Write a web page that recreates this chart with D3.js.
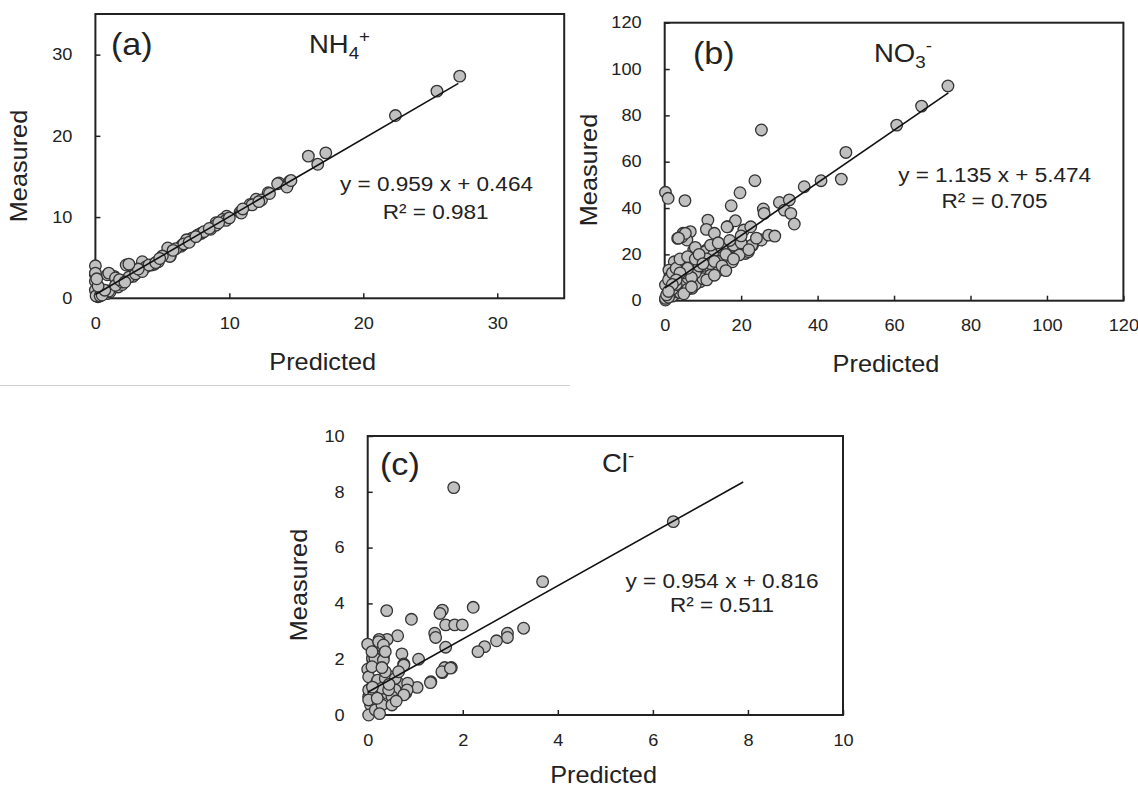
<!DOCTYPE html>
<html>
<head>
<meta charset="utf-8">
<script src="https://cdn.jsdelivr.net/npm/d3@7"></script>
<style>
  html, body { margin: 0; padding: 0; background: #fff; }
  svg { display: block; font-family: "Liberation Sans", Arial, sans-serif; }
</style>
</head>
<body>
<svg id="fig" width="1138" height="789"></svg>
<script>
// ---------- (a) NH4+ ----------
const nh4Predicted = [27.2, 25.5, 22.4, 15.9, 17.2, 16.6, 13.7, 14.5, 14.3, 12.9, 12.0, 11.55, 10.8, 9.8, 9.5, 9.0, 8.6, 7.9, 7.2, 6.8,
  6.4, 5.4, 5.6, 4.7, 3.5, 2.3, 3.8, 2.8, 1.4, 0.9, 1.7, 0.9, 0, 0, 0, 0, 0.2, 0.3,
  1.1, 1.0, 1.5, 2.0, 4.2, 4.4, 5.55, 6.5, 6.8, 7.65, 8.1, 9.0, 9.75, 10.9, 11.7, 12.4, 13.0, 13.6, 14.3, 14.6, 0, 0.05, 0.35, 2.8,
  1.0, 1.5, 2.0, 2.5, 3.0, 3.5, 4.0, 4.5, 5.0, 6.0, 6.6, 7.0, 7.5, 8.5, 9.2, 10.0, 11.0, 12.2, 0.5, 0.7, 0.2, 0.1, 1.8, 2.2, 3.2, 4.8, 5.8, 2.5];
const nh4Measured = [27.35, 25.5, 22.5, 17.5, 17.9, 16.5, 14.2, 14.4, 13.8, 13.0, 12.2, 11.55, 10.6, 10.1, 9.7, 9.3, 8.5, 8.0, 7.4, 7.0,
  6.4, 6.2, 5.2, 4.5, 4.5, 4.1, 3.9, 2.9, 2.7, 2.9, 1.4, 0.6, 4.0, 2.9, 2.1, 1.0, 0.2, 0.6,
  0.8, 3.1, 2.5, 1.7, 4.1, 4.2, 5.15, 6.6, 7.2, 7.8, 8.2, 9.0, 9.6, 10.5, 11.5, 12.1, 12.9, 14.1, 13.7, 14.5, 3.1, 0.3, 0.3, 2.7,
  0.9, 1.6, 2.0, 2.6, 3.0, 3.3, 4.1, 4.4, 5.2, 6.1, 6.7, 6.9, 7.6, 8.6, 9.3, 9.9, 11.0, 11.9, 0.4, 1.0, 1.5, 2.4, 2.3, 2.0, 3.6, 4.9, 5.9, 4.2];
const nh4Ticks = [0, 10, 20, 30];
const nh4Fit = { slope: 0.959, intercept: 0.464, from: 0, to: 27.1, r2: 0.981 };

// ---------- (b) NO3- ----------
const no3Predicted = [74.1, 67.2, 60.7, 47.4, 46.2, 40.9, 36.5, 25.3, 23.6, 19.7, 17.4, 30.0, 32.6, 31.3, 33.0, 33.9, 25.8, 26.0, 0.2, 0.9,
  5.3, 11.3, 10.9, 13.0, 16.5, 18.5, 20.7, 22.5, 23.0, 25.3, 27.2, 28.8, 18.8, 21.1, 16.9, 17.7, 3.4, 4.8, 6.7, 5.8,
  7.6, 7.2, 2.5, 1.1, 3.4, 9.5, 10.9, 13.2, 13.7, 0.2, 1.6, 0.2, 4.8, 9.0,
  4.5, 5.4, 3.6, 16.3, 10.6, 12.8, 15.0, 15.4, 19.3, 21.1, 21.9, 22.8, 19.5, 6.2, 7.1, 9.7, 11.9, 5.4, 1.5, 8.0, 10.6,
  2.3, 7.1, 9.3, 0.2, 3.2, 5.0,
  2, 3, 4, 6, 8, 10, 12, 14, 6, 8, 12, 2, 1, 0.5, 3, 5, 7, 9, 11, 14, 16, 18, 20, 1.0, 2, 3, 4, 6, 8,
  12, 14, 17, 20, 8, 9, 6, 4, 3, 10, 13, 15, 18, 22, 24, 2, 1, 5, 7, 11, 13, 16];
const no3Measured = [92.7, 84.0, 75.8, 64.0, 52.5, 51.8, 49.2, 73.7, 51.8, 46.6, 41.0, 42.4, 43.5, 39.1, 37.7, 33.1, 39.6, 37.7, 46.8, 44.2,
  43.2, 34.8, 30.8, 29.1, 31.9, 34.5, 30.5, 31.9, 24.0, 26.2, 28.3, 27.9, 22.6, 20.4, 16.8, 16.8, 26.9, 29.1, 29.8, 26.2,
  21.9, 18.3, 16.8, 13.2, 11.8, 13.2, 21.9, 20.4, 13.2, 6.8, 3.9, 0.3, 6.0, 8.9,
  27.6, 29.1, 27.0, 31.9, 21.2, 19.8, 22.6, 19.1, 22.6, 23.3, 21.2, 24.0, 19.8, 14.9, 16.8, 12.5, 14.6, 9.7, 10.4, 9.0, 10.4,
  8.2, 5.3, 8.2, 1.0, 3.2, 6.7,
  2, 4, 3.5, 5, 7, 9.5, 11, 13, 10, 12, 16, 5, 1.5, 2.5, 7, 12, 10, 15, 18, 17, 20, 24, 25, 9, 12, 14, 18, 19, 23,
  24, 25, 26, 28, 18, 20, 14, 12, 9, 16, 17, 15, 18, 22, 27, 7, 4, 3, 6, 9, 11, 13];
const no3Ticks = [0, 20, 40, 60, 80, 100, 120];
const no3Fit = { slope: 1.135, intercept: 5.474, from: 0, to: 74.2, r2: 0.705 };

// ---------- (c) Cl- ----------
const clPredicted = [6.43, 3.68, 1.81, 2.22, 1.57, 1.52, 1.64, 1.83, 1.99, 1.41, 1.43, 0.92, 0.40, 0.63, 3.28, 2.94, 2.94, 2.71, 2.46, 2.32,
  1.64, 1.07, 0.72, 0.76, 1.76, 1.62, 1.57, 1.33, 1.04, 0.0, 0.30, 0.41, 0.24, 0.14, 0.10, 0.33, 0, 0.02, 0.18, 0.49,
  0.65, 0.41, 0.80, 0.84, 0.02, 0.06, 0.18, 0.02,
  0.23, 0.33, 0.76, 0.15, 0.09, 0.33, 0.37, 1.56, 1.74, 1.32, 0.83, 0.58, 0.76, 0.51, 0.09, 0.21, 0.37, 0.58, 0.65, 0.37,
  0.02, 0.13, 0.30, 0.44, 0.02, 0.23, 0.16, 0.30, 0.51, 0.3, 0.2, 0.1, 0.45, 0.6, 0.25];
const clMeasured = [6.93, 4.78, 8.15, 3.86, 3.76, 3.64, 3.23, 3.23, 3.23, 2.93, 2.78, 3.43, 3.74, 2.84, 3.11, 2.93, 2.78, 2.66, 2.45, 2.27,
  2.43, 2.0, 2.19, 1.83, 1.70, 1.70, 1.52, 1.19, 0.99, 2.54, 2.47, 2.71, 2.71, 2.15, 2.03, 2.09, 1.64, 1.37, 1.14, 1.37,
  1.14, 0.78, 0.78, 1.14, 0.66, 0.36, 0.18, 0,
  2.63, 2.51, 1.79, 2.03, 2.27, 1.97, 2.27, 1.55, 1.68, 1.16, 0.9, 0.9, 0.72, 0.66, 1.73, 1.25, 1.31, 1.31, 1.55, 1.55,
  0.9, 0.78, 0.96, 0.9, 0.54, 0.42, 0.18, 0.36, 0.36, 1.7, 0.6, 1.0, 1.1, 0.5, 0.05];
const clTicks = [0, 2, 4, 6, 8, 10];
const clFit = { slope: 0.954, intercept: 0.816, from: 0, to: 7.9, r2: 0.511 };

// ---------- drawing ----------
const STRETCH = 1.1;           // the figure's lettering is slightly wide
const INK = "#222";
const svg = d3.select("#fig");

// Separator rule under the first panel
svg.append("line").attr("x1", 0).attr("x2", 570).attr("y1", 385.5).attr("y2", 385.5)
  .attr("stroke", "#d0d0d0").attr("stroke-width", 1);

function label(g, x, y, size, anchor, rotate) {
  return g.append("text")
    .attr("transform", `translate(${x},${y})` + (rotate ? " rotate(-90)" : "") + ` scale(${STRETCH},1)`)
    .attr("font-size", size)
    .attr("text-anchor", anchor)
    .attr("fill", INK);
}

function fmt(v) { return v.toFixed(3); }

function panel(cfg) {
  const g = svg.append("g");
  const x = d3.scaleLinear().domain(cfg.domain).range([cfg.box.left, cfg.box.right]);
  const y = d3.scaleLinear().domain(cfg.domain).range([cfg.box.bottom, cfg.box.top]);

  // axes with inward ticks
  const xa = g.append("g").attr("transform", `translate(0,${cfg.box.bottom})`)
    .call(d3.axisBottom(x).tickValues(cfg.ticks).tickSizeInner(-5).tickSizeOuter(0).tickPadding(19));
  const ya = g.append("g").attr("transform", `translate(${cfg.box.left},0)`)
    .call(d3.axisLeft(y).tickValues(cfg.ticks).tickSizeInner(-5).tickSizeOuter(0).tickPadding(21));
  [xa, ya].forEach(a => {
    a.select(".domain").remove();
    a.selectAll(".tick line").attr("stroke", INK).attr("stroke-width", 1.5);
    a.selectAll(".tick text").attr("font-size", 16.5).attr("fill", INK)
      .attr("font-family", "'Liberation Sans', Arial, sans-serif")
      .attr("transform", `scale(${STRETCH},1)`);
  });

  // frame
  g.append("rect")
    .attr("x", cfg.box.left).attr("y", cfg.box.top)
    .attr("width", cfg.box.right - cfg.box.left).attr("height", cfg.box.bottom - cfg.box.top)
    .attr("fill", "none").attr("stroke", INK).attr("stroke-width", 2);

  // observations
  g.append("g").selectAll("circle")
    .data(d3.zip(cfg.pred, cfg.meas))
    .join("circle")
    .attr("cx", d => x(d[0])).attr("cy", d => y(d[1])).attr("r", 5.8)
    .attr("fill", "#c0c0c0").attr("stroke", "#333").attr("stroke-width", 1.3);

  // least-squares fit
  const f = cfg.fit;
  g.append("line")
    .attr("x1", x(f.from)).attr("y1", y(f.slope * f.from + f.intercept))
    .attr("x2", x(f.to)).attr("y2", y(f.slope * f.to + f.intercept))
    .attr("stroke", "#111").attr("stroke-width", 1.6);

  // annotations
  const t = cfg.text;
  label(g, t.eq[0], t.eq[1], 20.5, "middle").text(`y = ${fmt(f.slope)} x + ${fmt(f.intercept)}`);
  label(g, t.r2[0], t.r2[1], 20.5, "middle").text(`R² = ${fmt(f.r2)}`);
  label(g, t.letter[0], t.letter[1], 31, "start").text(cfg.letter);

  const sp = label(g, t.species[0], t.species[1], 25, "start");
  sp.append("tspan").text(cfg.species[0]);
  if (cfg.species[1]) sp.append("tspan").attr("font-size", 17).attr("dy", 6).text(cfg.species[1]);
  sp.append("tspan").attr("font-size", 17).attr("dy", cfg.species[1] ? -17 : -11).text(cfg.species[2]);

  label(g, t.xTitle[0], t.xTitle[1], 23, "middle").text("Predicted");
  label(g, t.yTitle[0], t.yTitle[1], 23, "middle", true).attr("dy", "0.36em").text("Measured");
}

panel({
  box: { left: 95.4, right: 564.2, top: 14, bottom: 298.3 },
  domain: [0, 35], ticks: nh4Ticks,
  pred: nh4Predicted, meas: nh4Measured, fit: nh4Fit,
  letter: "(a)", species: ["NH", "4", "+"],
  text: { eq: [436.5, 191], r2: [435.6, 218.5], letter: [111, 55], species: [309, 53],
          xTitle: [322.7, 370], yTitle: [18.5, 166] }
});

panel({
  box: { left: 664.7, right: 1123.4, top: 22.7, bottom: 300.7 },
  domain: [0, 120], ticks: no3Ticks,
  pred: no3Predicted, meas: no3Measured, fit: no3Fit,
  letter: "(b)", species: ["NO", "3", "-"],
  text: { eq: [994.6, 182], r2: [994.5, 207.5], letter: [693, 64], species: [874, 62],
          xTitle: [886, 371.5], yTitle: [589, 170] }
});

panel({
  box: { left: 367.7, right: 843, top: 436, bottom: 715 },
  domain: [0, 10], ticks: clTicks,
  pred: clPredicted, meas: clMeasured, fit: clFit,
  letter: "(c)", species: ["Cl", null, "-"],
  text: { eq: [722, 587.5], r2: [722, 612], letter: [380, 475], species: [602, 472],
          xTitle: [603.6, 783], yTitle: [298.5, 585] }
});
</script>
</body>
</html>
